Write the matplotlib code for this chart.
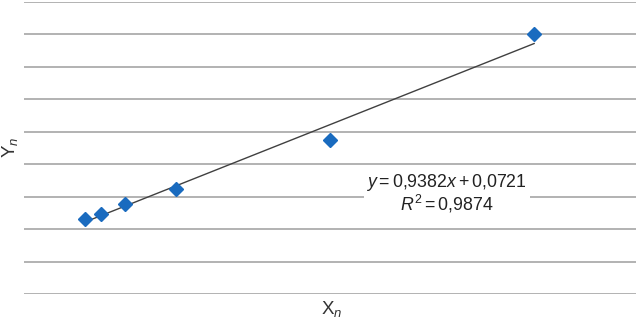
import matplotlib
matplotlib.use('Agg')
import matplotlib.pyplot as plt

# ---------- data ----------
x_vals = [0.160, 0.181, 0.212, 0.279, 0.480, 0.746]
y_vals = [0.231, 0.247, 0.278, 0.324, 0.475, 0.800]
slope = 0.9382
intercept = 0.0721
r2 = 0.9874
y_grid = [0.0, 0.1, 0.2, 0.3, 0.4, 0.5, 0.6, 0.7, 0.8, 0.9]

plt.rcParams['font.family'] = ['Liberation Sans', 'DejaVu Sans']
plt.rcParams['mathtext.fontset'] = 'custom'
plt.rcParams['mathtext.rm'] = 'Liberation Sans'
plt.rcParams['mathtext.it'] = 'Liberation Sans:italic'

fig = plt.figure(figsize=(6.37, 3.21), dpi=100)
ax = fig.add_axes([24 / 637, 27 / 321, 612 / 637, 292 / 321])

ax.set_xlim(0.080, 0.879)
ax.set_ylim(0.0, 0.9)

for g in y_grid:
    ax.axhline(g, color='#a6a6a6', lw=1.2, zorder=0)

# trendline from the equation
x0, x1 = min(x_vals), max(x_vals)
ax.plot([x0, x1], [slope * x0 + intercept, slope * x1 + intercept],
        color='#404040', lw=1.0, zorder=2)

ax.plot(x_vals, y_vals, linestyle='none', marker='D', markersize=7.5,
        color='#1a6bbf', markeredgecolor='#1a6bbf', zorder=3)

def comma(v):
    return f'{v}'.replace('.', '{,}')

eq = r'$y=' + comma(slope) + r'x+' + comma(intercept) + r'$'
eq += '\n' + r'$R^2=' + comma(r2) + r'$'
ax.text(0.632, 0.31, eq, ha='center', va='center', fontsize=12.8,
        color='#222222', linespacing=1.0,
        bbox=dict(facecolor='white', edgecolor='none', pad=2), zorder=4)

for s in ax.spines.values():
    s.set_visible(False)
ax.set_xticks([])
ax.set_yticks([])

fig.text(332 / 637, 1 - 309 / 321, r'X$_{\it n}$', ha='center', va='center',
         fontsize=13.5, color='#333333')
fig.text(10 / 637, 1 - 147 / 321, r'Y$_{\it n}$', ha='center', va='center',
         fontsize=13.5, color='#333333', rotation=90)

fig.savefig('out.png', dpi=100)
